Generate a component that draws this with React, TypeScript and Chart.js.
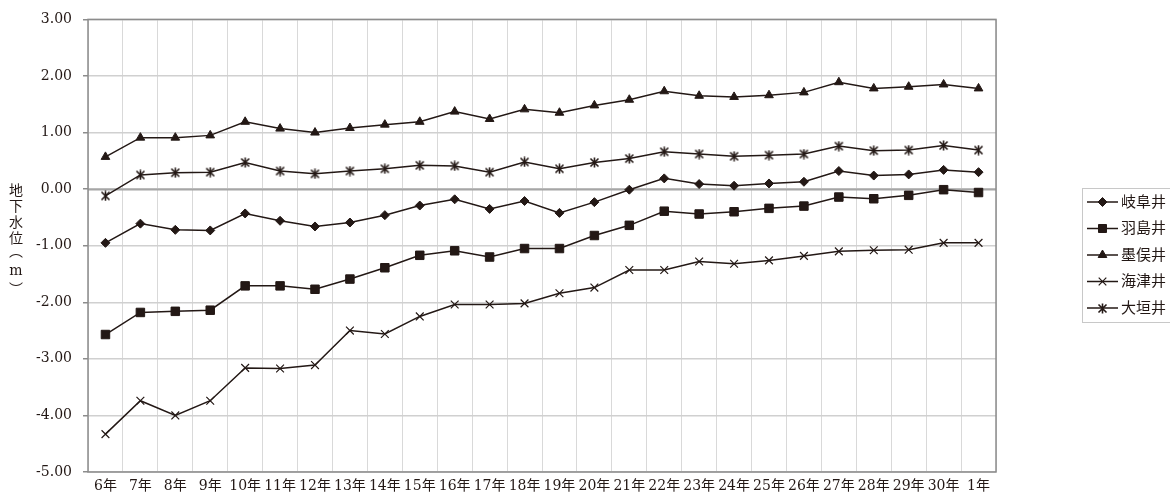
import React, { useEffect, useRef } from 'react';
import { Chart, registerables } from 'chart.js';

Chart.register(...registerables);

const categories = [
  '6年', '7年', '8年', '9年', '10年', '11年', '12年', '13年', '14年', '15年',
  '16年', '17年', '18年', '19年', '20年', '21年', '22年', '23年', '24年', '25年',
  '26年', '27年', '28年', '29年', '30年', '1年',
];

// 岐阜井
const gifuWell = [
  -0.95, -0.61, -0.72, -0.73, -0.43, -0.56, -0.66, -0.59, -0.46, -0.29,
  -0.18, -0.35, -0.21, -0.42, -0.23, -0.01, 0.19, 0.09, 0.06, 0.10,
  0.13, 0.32, 0.24, 0.26, 0.34, 0.30,
];
// 羽島井
const hashimaWell = [
  -2.57, -2.18, -2.16, -2.14, -1.71, -1.71, -1.77, -1.59, -1.39, -1.17,
  -1.09, -1.20, -1.05, -1.05, -0.82, -0.64, -0.39, -0.44, -0.40, -0.34,
  -0.30, -0.14, -0.17, -0.11, -0.01, -0.06,
];
// 墨俣井
const sunomataWell = [
  0.57, 0.91, 0.91, 0.95, 1.19, 1.07, 1.00, 1.08, 1.14, 1.19,
  1.37, 1.24, 1.41, 1.35, 1.48, 1.58, 1.73, 1.65, 1.63, 1.66,
  1.71, 1.89, 1.78, 1.81, 1.85, 1.78,
];
// 海津井
const kaizuWell = [
  -4.33, -3.74, -4.00, -3.74, -3.16, -3.17, -3.11, -2.50, -2.56, -2.25,
  -2.04, -2.04, -2.02, -1.84, -1.74, -1.43, -1.43, -1.28, -1.32, -1.26,
  -1.18, -1.10, -1.08, -1.07, -0.95, -0.95,
];
// 大垣井
const ogakiWell = [
  -0.12, 0.25, 0.29, 0.30, 0.47, 0.32, 0.27, 0.32, 0.36, 0.42,
  0.41, 0.30, 0.48, 0.36, 0.47, 0.54, 0.66, 0.62, 0.58, 0.60,
  0.62, 0.76, 0.68, 0.69, 0.77, 0.69,
];

const seriesNames = ['岐阜井', '羽島井', '墨俣井', '海津井', '大垣井'];
const yTicks = [3, 2, 1, 0, -1, -2, -3, -4, -5];
const yTitleChars = ['地', '下', '水', '位', '︵', 'm', '︶'];

const INK = '#231815';
const FONT_FAMILY = "'DejaVu Serif', 'Noto Sans CJK JP', serif";

function makeAsterisk(): HTMLCanvasElement {
  const c = document.createElement('canvas');
  c.width = 11;
  c.height = 11;
  const ctx = c.getContext('2d')!;
  ctx.strokeStyle = INK;
  ctx.lineWidth = 1.6;
  ctx.beginPath();
  ctx.moveTo(5.5, 0.5);
  ctx.lineTo(5.5, 10.5);
  ctx.moveTo(1.5, 1.5);
  ctx.lineTo(9.5, 9.5);
  ctx.moveTo(9.5, 1.5);
  ctx.lineTo(1.5, 9.5);
  ctx.stroke();
  return c;
}

function drawLegendMarker(ctx: CanvasRenderingContext2D, kind: number, x: number, y: number, star: HTMLCanvasElement) {
  ctx.save();
  ctx.fillStyle = INK;
  ctx.strokeStyle = INK;
  ctx.lineWidth = 1;
  ctx.beginPath();
  if (kind === 0) {
    const r = 4.5;
    ctx.moveTo(x - r, y); ctx.lineTo(x, y - r); ctx.lineTo(x + r, y); ctx.lineTo(x, y + r);
    ctx.closePath(); ctx.fill(); ctx.stroke();
  } else if (kind === 1) {
    ctx.rect(x - 4, y - 4, 8, 8); ctx.fill(); ctx.stroke();
  } else if (kind === 2) {
    const r = 5;
    ctx.moveTo(x, y - r);
    ctx.lineTo(x + r * 0.866, y + r / 2);
    ctx.lineTo(x - r * 0.866, y + r / 2);
    ctx.closePath(); ctx.fill(); ctx.stroke();
  } else if (kind === 3) {
    const d = 3.8;
    ctx.lineWidth = 1.2;
    ctx.moveTo(x - d, y - d); ctx.lineTo(x + d, y + d);
    ctx.moveTo(x + d, y - d); ctx.lineTo(x - d, y + d);
    ctx.stroke();
  } else {
    ctx.drawImage(star, Math.round(x - star.width / 2), Math.round(y - star.height / 2));
  }
  ctx.restore();
}

export default function App() {
  const ref = useRef<HTMLCanvasElement | null>(null);

  useEffect(() => {
    if (!ref.current) return;
    const star = makeAsterisk();

    const framePlugin = {
      id: 'frame',
      beforeDatasetsDraw(chart: any) {
        const { ctx, chartArea, scales } = chart;
        ctx.save();
        const y0 = Math.round(scales.y.getPixelForValue(0)) + 0.5;
        ctx.strokeStyle = '#a6a6a6';
        ctx.lineWidth = 2;
        ctx.beginPath();
        ctx.moveTo(chartArea.left, y0);
        ctx.lineTo(chartArea.right, y0);
        ctx.stroke();
        ctx.strokeStyle = '#8c8c8c';
        ctx.lineWidth = 1.5;
        ctx.strokeRect(chartArea.left, chartArea.top, chartArea.right - chartArea.left, chartArea.bottom - chartArea.top);
        ctx.restore();
      },
      afterDraw(chart: any) {
        const { ctx } = chart;
        ctx.save();
        // y-axis title, stacked vertically
        ctx.fillStyle = INK;
        ctx.font = `14px ${FONT_FAMILY}`;
        ctx.textAlign = 'center';
        ctx.textBaseline = 'middle';
        const titleY = [191, 207, 223, 239, 252, 271, 290];
        yTitleChars.forEach((ch, i) => ctx.fillText(ch, 16, titleY[i]));

        // legend
        ctx.strokeStyle = '#c8c8c8';
        ctx.lineWidth = 1;
        ctx.strokeRect(1082.5, 188.5, 120, 134);
        ctx.textAlign = 'left';
        ctx.font = `15px ${FONT_FAMILY}`;
        seriesNames.forEach((name, i) => {
          const y = 202 + i * 26.5;
          ctx.strokeStyle = INK;
          ctx.lineWidth = 1.5;
          ctx.beginPath();
          ctx.moveTo(1087, y);
          ctx.lineTo(1118, y);
          ctx.stroke();
          drawLegendMarker(ctx, i, 1102.5, y, star);
          ctx.fillStyle = INK;
          ctx.fillText(name, 1121, y + 1);
        });
        ctx.restore();
      },
    };

    const common = {
      borderColor: INK,
      backgroundColor: INK,
      pointBackgroundColor: INK,
      pointBorderColor: INK,
      borderWidth: 1.5,
      pointBorderWidth: 1,
      tension: 0,
      fill: false,
    };

    const chart = new Chart(ref.current, {
      type: 'line',
      data: {
        labels: categories,
        datasets: [
          { ...common, label: seriesNames[0], data: gifuWell, pointStyle: 'rectRot', pointRadius: 4.5 },
          { ...common, label: seriesNames[1], data: hashimaWell, pointStyle: 'rect', pointRadius: 6 },
          { ...common, label: seriesNames[2], data: sunomataWell, pointStyle: 'triangle', pointRadius: 5 },
          { ...common, label: seriesNames[3], data: kaizuWell, pointStyle: 'crossRot', pointRadius: 5.5, pointBorderWidth: 1.2 },
          { ...common, label: seriesNames[4], data: ogakiWell, pointStyle: star as any, pointRadius: 5 },
        ],
      },
      options: {
        responsive: false,
        animation: false,
        layout: { padding: { left: 0, right: 174, top: 17, bottom: 0 } },
        plugins: {
          legend: { display: false },
          tooltip: { enabled: false },
        },
        scales: {
          x: {
            type: 'category',
            offset: true,
            grid: { offset: true, color: '#d9d9d9', lineWidth: 1, drawTicks: false },
            border: { display: false },
            ticks: {
              autoSkip: false,
              maxRotation: 0,
              minRotation: 0,
              padding: 6,
              color: INK,
              font: { family: FONT_FAMILY, size: 14 },
            },
            afterFit: (s: any) => { s.height = 25; },
          },
          y: {
            min: -5,
            max: 3,
            afterBuildTicks: (s: any) => { s.ticks = yTicks.map((v) => ({ value: v })); },
            ticks: {
              padding: 11,
              color: INK,
              font: { family: FONT_FAMILY, size: 14 },
              callback: (v: any) => Number(v).toFixed(2),
            },
            grid: { color: '#d0d0d0', lineWidth: 1.5, tickLength: 5, tickColor: '#8c8c8c' },
            border: { display: false },
            afterFit: (s: any) => { s.width = 88; },
          },
        },
      },
      plugins: [framePlugin],
    });

    return () => chart.destroy();
  }, []);

  return (
    <div style={{ position: 'fixed', left: 0, top: 0, width: 1170, height: 497, overflow: 'hidden', background: '#fff' }}>
      <canvas ref={ref} width={1170} height={497} style={{ width: 1170, height: 497, display: 'block' }} />
    </div>
  );
}
